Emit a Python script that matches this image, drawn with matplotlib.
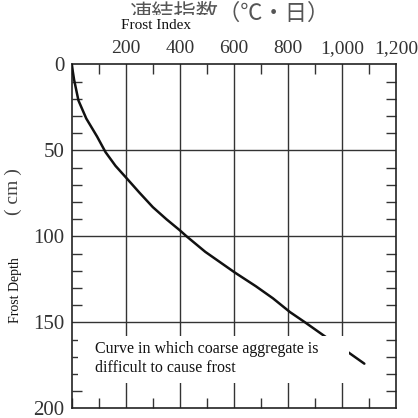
import matplotlib
matplotlib.use("Agg")
import matplotlib.pyplot as plt
from matplotlib.ticker import MultipleLocator, FixedLocator
from matplotlib.patches import Rectangle

# Data
frost_index = [0, 9, 25, 54, 94, 125, 162, 202, 250, 300, 350, 400, 425, 494,
               603, 681, 744, 807, 863, 944, 1019, 1082]
frost_depth = [0, 9, 21, 31.5, 42, 51, 59, 66, 74.5, 83, 90, 96.5, 100, 109,
               121, 129, 136, 144, 150, 159, 167, 174]
x_ticks = [200, 400, 600, 800, 1000, 1200]
x_tick_labels = ["200", "400", "600", "800", "1,000", "1,200"]
y_ticks = [0, 50, 100, 150, 200]
y_tick_labels = ["0", "50", "100", "150", "200"]

serif = ["Liberation Serif", "DejaVu Serif"]

fig = plt.figure(figsize=(4.18, 4.18), dpi=100)
ax = fig.add_axes([0.1715, 0.023, 0.7765, 0.823])

ax.set_xlim(0, 1200)
ax.set_ylim(200, 0)

ax.plot(frost_index, frost_depth, color="#111111", lw=1.8, zorder=3,
        solid_joinstyle="round", solid_capstyle="round")

# grid
for xv in x_ticks[:-1]:
    ax.axvline(xv, color="#333333", lw=1.0, zorder=1)
for yv in y_ticks[1:-1]:
    ax.axhline(yv, color="#333333", lw=1.0, zorder=1)

for s in ax.spines.values():
    s.set_color("#222222")
    s.set_linewidth(1.2)

ax.xaxis.set_major_locator(FixedLocator(x_ticks))
ax.xaxis.set_minor_locator(MultipleLocator(100))
ax.yaxis.set_major_locator(FixedLocator(y_ticks))
ax.yaxis.set_minor_locator(MultipleLocator(10))
ax.set_xticklabels(x_tick_labels, fontfamily=serif, fontsize=14, color="#333333")
ax.set_yticklabels(y_tick_labels, fontfamily=serif, fontsize=15, color="#333333")
ax.xaxis.tick_top()
ax.tick_params(axis="x", which="both", top=True, bottom=True, direction="in")
ax.tick_params(axis="y", which="both", left=True, right=True, direction="in")
ax.tick_params(which="major", length=0, pad=5)
ax.tick_params(which="minor", length=7, width=1.0, color="#333333")

# annotation box
ax.add_patch(Rectangle((24, 158), 1001, 27, facecolor="white", edgecolor="none", zorder=4))
ax.text(87, 161, "Curve in which coarse aggregate is\ndifficult to cause frost",
        fontfamily=serif, fontsize=11.5, color="#111111", va="top", ha="left",
        linespacing=1.2, zorder=5)

# top title (partially hidden in reference)
fig.text(0.548, 0.967, "凍結指数（℃・日）", fontfamily=["Noto Sans CJK JP", "DejaVu Sans"],
         fontsize=16, color="#555555", ha="center", va="center")
fig.patches.append(Rectangle((0.275, 0.909), 0.27, 0.055, transform=fig.transFigure,
                             facecolor="white", edgecolor="none", zorder=5))
fig.text(0.373, 0.938, "Frost Index", fontfamily=serif, fontsize=11,
         color="#111111", ha="center", va="center", zorder=6)

# y labels
fig.text(0.031, 0.541, "( cm )", fontfamily=serif, fontsize=14, color="#444444",
         rotation=90, ha="center", va="center")
fig.text(0.036, 0.305, "Frost Depth", fontfamily=serif, fontsize=10,
         color="#111111", rotation=90, ha="center", va="center")

fig.savefig("out.png", dpi=100)
